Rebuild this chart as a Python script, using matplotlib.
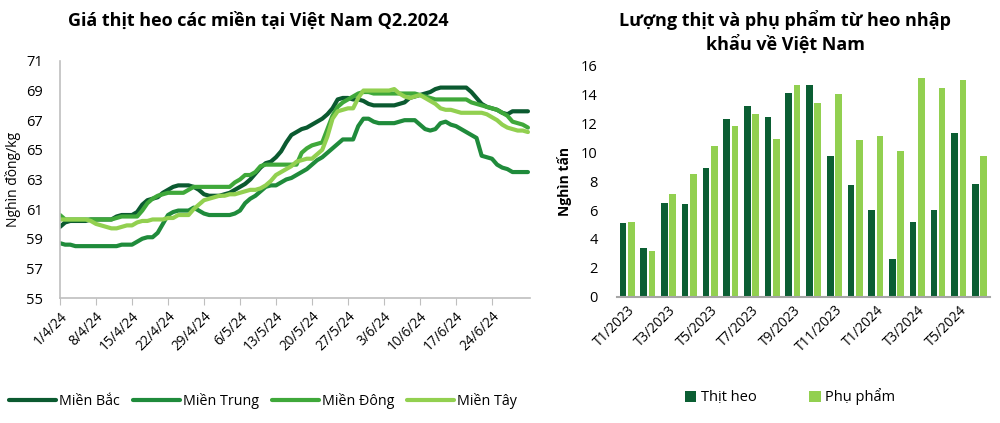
import matplotlib
matplotlib.use("Agg")
import matplotlib.pyplot as plt
import numpy as np

plt.rcParams['font.family'] = ['Open Sans', 'DejaVu Sans']

# ---------------- Data: left chart (daily prices, 1/4/2024 .. 1/7/2024) ----------------
tick_labels_left = ["1/4/24", "8/4/24", "15/4/24", "22/4/24", "29/4/24", "6/5/24",
                    "13/5/24", "20/5/24", "27/5/24", "3/6/24", "10/6/24", "17/6/24", "24/6/24"]

mien_bac = [59.8, 60.1, 60.2, 60.2, 60.2, 60.2, 60.3, 60.3, 60.3, 60.3,
            60.3, 60.5, 60.6, 60.6, 60.6, 60.8, 61.3, 61.6, 61.7, 61.8,
            62.1, 62.3, 62.5, 62.6, 62.6, 62.6, 62.5, 62.3, 62.0, 61.9,
            61.9, 61.9, 62.0, 62.1, 62.3, 62.5, 62.7, 63.0, 63.4, 63.8,
            64.1, 64.2, 64.5, 64.9, 65.5, 66.0, 66.2, 66.4, 66.5, 66.7,
            66.9, 67.1, 67.4, 67.8, 68.4, 68.5, 68.5, 68.4, 68.4, 68.3,
            68.1, 68.0, 68.0, 68.0, 68.0, 68.0, 68.1, 68.2, 68.5, 68.6,
            68.7, 68.8, 68.9, 69.1, 69.2, 69.2, 69.2, 69.2, 69.2, 69.2,
            68.9, 68.5, 68.1, 67.9, 67.8, 67.7, 67.5, 67.4, 67.6, 67.6,
            67.6, 67.6]

mien_trung = [58.7, 58.6, 58.6, 58.5, 58.5, 58.5, 58.5, 58.5, 58.5, 58.5,
              58.5, 58.5, 58.6, 58.6, 58.6, 58.8, 59.0, 59.1, 59.1, 59.4,
              60.0, 60.6, 60.8, 60.9, 60.9, 60.9, 61.1, 60.9, 60.7, 60.6,
              60.6, 60.6, 60.6, 60.6, 60.7, 60.9, 61.4, 61.7, 61.9, 62.2,
              62.5, 62.6, 62.6, 62.8, 63.0, 63.1, 63.3, 63.5, 63.7, 64.0,
              64.3, 64.5, 64.8, 65.1, 65.4, 65.7, 65.7, 65.7, 66.6, 67.1,
              67.1, 66.9, 66.8, 66.8, 66.8, 66.8, 66.9, 67.0, 67.0, 67.0,
              66.7, 66.4, 66.3, 66.4, 66.8, 66.9, 66.7, 66.6, 66.4, 66.2,
              66.0, 65.8, 64.6, 64.5, 64.4, 64.0, 63.8, 63.7, 63.5, 63.5,
              63.5, 63.5]

mien_dong = [60.6, 60.3, 60.3, 60.3, 60.3, 60.3, 60.3, 60.3, 60.3, 60.3,
             60.3, 60.4, 60.5, 60.5, 60.5, 60.5, 60.9, 61.4, 61.7, 61.9,
             62.0, 62.1, 62.1, 62.1, 62.1, 62.3, 62.5, 62.5, 62.5, 62.5,
             62.5, 62.5, 62.5, 62.5, 62.8, 63.0, 63.3, 63.3, 63.5, 63.9,
             64.0, 64.0, 64.0, 64.0, 64.0, 64.0, 64.0, 64.8, 65.1, 65.3,
             65.4, 65.5, 66.4, 67.3, 67.9, 68.2, 68.4, 68.6, 68.8, 68.9,
             68.9, 68.8, 68.8, 68.8, 68.8, 68.8, 68.8, 68.8, 68.8, 68.8,
             68.7, 68.6, 68.5, 68.4, 68.4, 68.4, 68.4, 68.4, 68.4, 68.4,
             68.2, 68.1, 68.0, 67.9, 67.8, 67.7, 67.5, 67.3, 66.9, 66.8,
             66.7, 66.5]

mien_tay = [60.3, 60.3, 60.3, 60.3, 60.3, 60.3, 60.2, 60.0, 59.9, 59.8,
            59.7, 59.7, 59.8, 59.9, 59.9, 60.1, 60.2, 60.2, 60.3, 60.3,
            60.3, 60.4, 60.4, 60.6, 60.6, 60.6, 61.0, 61.3, 61.6, 61.7,
            61.8, 61.9, 61.9, 62.0, 62.0, 62.1, 62.2, 62.3, 62.3, 62.4,
            62.6, 62.9, 63.3, 63.5, 63.7, 63.9, 64.2, 64.3, 64.4, 64.4,
            64.7, 65.0, 65.9, 67.1, 67.6, 67.7, 67.8, 67.8, 68.5, 69.0,
            69.0, 69.0, 69.0, 69.0, 69.0, 69.1, 68.8, 68.6, 68.5, 68.6,
            68.7, 68.5, 68.3, 68.1, 67.8, 67.7, 67.7, 67.6, 67.5, 67.5,
            67.5, 67.5, 67.5, 67.4, 67.2, 67.0, 66.7, 66.5, 66.4, 66.3,
            66.3, 66.2]

series_names = ["Miền Bắc", "Miền Trung", "Miền Đông", "Miền Tây"]
series_colors = ["#0b5a30", "#1f8b3b", "#3fa83a", "#92d050"]

# ---------------- Data: right chart (monthly imports, thousand tonnes) ----------------
months = ["T1/2023", "T2/2023", "T3/2023", "T4/2023", "T5/2023", "T6/2023",
          "T7/2023", "T8/2023", "T9/2023", "T10/2023", "T11/2023", "T12/2023",
          "T1/2024", "T2/2024", "T3/2024", "T4/2024", "T5/2024", "T6/2024"]
thit_heo = [5.1, 3.4, 6.5, 6.4, 8.9, 12.3, 13.2, 12.4, 14.1, 14.6, 9.7, 7.7,
            6.0, 2.6, 5.2, 6.0, 11.3, 7.8]
phu_pham = [5.2, 3.2, 7.1, 8.5, 10.4, 11.8, 12.6, 10.9, 14.6, 13.4, 14.0, 10.8,
            11.1, 10.1, 15.1, 14.4, 15.0, 9.7]

# ---------------- Figure ----------------
fig = plt.figure(figsize=(10, 4.23), dpi=100)
axis_gray = "#bfbfbf"

# Left chart
ax1 = fig.add_axes([0.060, 0.2955, 0.470, 0.5605])
days = np.arange(len(mien_bac))
for vals, name, col in zip([mien_bac, mien_trung, mien_dong, mien_tay], series_names, series_colors):
    ax1.plot(days, vals, color=col, lw=3.0, label=name, solid_capstyle='round')
ax1.set_xlim(0, 91.4)
ax1.set_ylim(55, 71)
ax1.set_yticks(np.arange(55, 72, 2))
ax1.set_xticks(np.arange(0, 7 * len(tick_labels_left), 7))
ax1.set_xticklabels(tick_labels_left, rotation=45, ha='right', rotation_mode='anchor', fontsize=9.8)
ax1.tick_params(axis='y', length=0, labelsize=10.5, pad=12)
ax1.tick_params(axis='x', length=5, color=axis_gray, pad=3)
for s in ['top', 'right']:
    ax1.spines[s].set_visible(False)
for s in ['left', 'bottom']:
    ax1.spines[s].set_color(axis_gray)
    ax1.spines[s].set_linewidth(1.2)
ax1.set_ylabel("Nghìn đồng/kg", fontsize=10, labelpad=4)
fig.text(0.258, 0.952, "Giá thịt heo các miền tại Việt Nam Q2.2024", ha='center', va='center',
         fontsize=13, fontweight='bold')
fig.legend(*ax1.get_legend_handles_labels(), loc='center', bbox_to_anchor=(0.263, 0.052),
           ncol=4, frameon=False, fontsize=10.3, handlelength=3.3, handletextpad=0.2,
           columnspacing=0.9)

# Right chart
ax2 = fig.add_axes([0.617, 0.298, 0.373, 0.548])
x = np.arange(len(months))
w = 0.32
ax2.bar(x - 0.21, thit_heo, width=w, color="#0b5e33", label="Thịt heo")
ax2.bar(x + 0.19, phu_pham, width=w, color="#92d050", label="Phụ phẩm")
ax2.set_xlim(-0.5, len(months) - 0.5)
ax2.set_ylim(0, 16)
ax2.set_yticks(np.arange(0, 17, 2))
ax2.set_xticks(x[::2])
ax2.set_xticklabels(months[::2], rotation=45, ha='right', rotation_mode='anchor', fontsize=9.8)
ax2.tick_params(axis='y', length=0, labelsize=10.5, pad=14)
ax2.tick_params(axis='x', length=0, pad=4)
for s in ['top', 'right', 'left']:
    ax2.spines[s].set_visible(False)
ax2.spines['bottom'].set_color("#a6a6a6")
ax2.spines['bottom'].set_linewidth(1.5)
ax2.set_ylabel("Nghìn tấn", fontsize=10, fontweight='bold', labelpad=6)
fig.text(0.785, 0.925, "Lượng thịt và phụ phẩm từ heo nhập\nkhẩu về Việt Nam", ha='center', va='center',
         fontsize=13, fontweight='bold', linespacing=1.3)
fig.legend(*ax2.get_legend_handles_labels(), loc='center', bbox_to_anchor=(0.79, 0.062),
           ncol=2, frameon=False, fontsize=10.5, handlelength=0.8, handleheight=0.8,
           handletextpad=0.3, columnspacing=3.6)

fig.savefig("out.png", dpi=100)
